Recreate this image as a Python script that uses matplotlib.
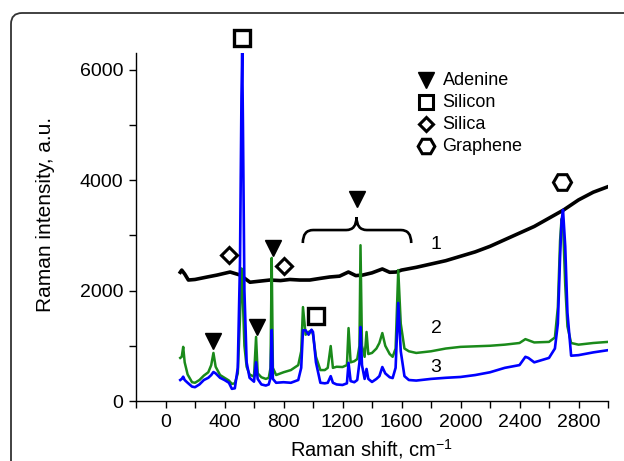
import matplotlib
matplotlib.use("Agg")
import matplotlib.pyplot as plt
from matplotlib.patches import FancyBboxPatch
from matplotlib.path import Path
from matplotlib.patches import PathPatch
from matplotlib.transforms import IdentityTransform
from matplotlib.ticker import MultipleLocator

plt.rcParams['font.family'] = ['Liberation Sans', 'DejaVu Sans']
plt.rcParams['mathtext.fontset'] = 'custom'
plt.rcParams['mathtext.rm'] = 'Liberation Sans'
plt.rcParams['mathtext.it'] = 'Liberation Sans:italic'

# ---------------- data ----------------
x_black = [100, 110, 130, 155, 200, 283, 350, 438, 506, 573, 640, 708, 780, 843,
           910, 978, 1050, 1113, 1180, 1240, 1290, 1337, 1400, 1470, 1520, 1564,
           1600, 1700, 1800, 1900, 2000, 2100, 2200, 2300, 2400, 2500, 2600,
           2700, 2800, 2900, 3000]
y_black = [2330, 2370, 2300, 2190, 2200, 2245, 2280, 2335, 2280, 2150, 2170, 2190,
           2180, 2200, 2190, 2190, 2220, 2245, 2260, 2335, 2270, 2280, 2320, 2390,
           2330, 2335, 2370, 2420, 2480, 2540, 2620, 2700, 2800, 2920, 3040, 3160,
           3310, 3460, 3640, 3780, 3880]

x_gb = [100, 110, 120, 130, 150, 180, 200, 230, 260, 290, 310, 325, 340, 370, 400,
        430, 450, 470, 490, 505, 515, 520, 525, 535, 550, 570, 600, 614, 625, 650,
        680, 700, 712, 720, 728, 750, 800, 850, 900, 920, 932, 950, 970, 990, 1000,
        1020, 1050, 1080, 1100, 1120, 1135, 1160, 1200, 1230, 1241, 1255, 1280,
        1300, 1315, 1322, 1332, 1350, 1363, 1375, 1400, 1430, 1450, 1470, 1490,
        1520, 1540, 1560, 1578, 1595, 1620, 1650, 1700, 1800, 1900, 2000, 2100,
        2200, 2300, 2400, 2440, 2460, 2500, 2600, 2640, 2660, 2675, 2685, 2695,
        2710, 2725, 2750, 2800, 2900, 3000]
y_green = [780, 800, 980, 700, 480, 340, 330, 380, 460, 520, 650, 870, 620, 470, 420,
           370, 310, 320, 500, 1500, 2400, 2300, 1800, 1000, 620, 480, 440, 1160, 500,
           430, 400, 420, 600, 2590, 600, 470, 520, 560, 650, 900, 1700, 1200, 1250,
           1280, 1200, 800, 560, 560, 600, 995, 600, 620, 615, 650, 1320, 700, 720,
           760, 1000, 2820, 1000, 800, 1250, 850, 870, 950, 1050, 1230, 1000, 850,
           800, 950, 2370, 1400, 950, 900, 870, 900, 950, 980, 990, 1000, 1020, 1050,
           1120, 1100, 1060, 1070, 1150, 1700, 2900, 3300, 3200, 2100, 1350, 1050,
           1020, 1050, 1070]
y_blue = [380, 400, 440, 380, 330, 260, 250, 300, 380, 420, 470, 525, 500, 420, 380,
          330, 220, 230, 600, 2500, 5500, 6300, 5000, 2000, 700, 420, 350, 700, 400,
          300, 280, 300, 420, 1285, 400, 330, 340, 330, 380, 600, 1280, 1280, 1200,
          1290, 1250, 700, 330, 320, 330, 450, 330, 300, 290, 320, 690, 360, 340,
          380, 700, 1340, 650, 400, 580, 400, 345, 400, 450, 615, 500, 430, 415, 600,
          1775, 900, 450, 380, 370, 400, 420, 435, 470, 520, 600, 650, 800, 780, 700,
          780, 950, 1400, 2600, 3250, 3460, 2800, 1600, 820, 830, 880, 920]

x_ticks = [0, 400, 800, 1200, 1600, 2000, 2400, 2800]
y_ticks = [0, 2000, 4000, 6000]
curve_labels = ["1", "2", "3"]
legend_names = ["Adenine", "Silicon", "Silica", "Graphene"]

# ---------------- figure ----------------
fig = plt.figure(figsize=(6.24, 4.61), dpi=100)
ax = fig.add_axes([136/624, 60/461, 472/624, 348/461])

ax.plot(x_black, y_black, color='black', lw=2.6, solid_joinstyle='round')
ax.plot(x_gb, y_green, color='#1a8a1a', lw=1.8)
ax.plot(x_gb, y_blue, color='#0000ff', lw=1.9)

ax.set_xlim(-200, 3000)
ax.set_ylim(0, 6300)
ax.set_xticks(x_ticks)
ax.set_yticks(y_ticks)
ax.xaxis.set_minor_locator(MultipleLocator(200))
ax.yaxis.set_minor_locator(MultipleLocator(1000))
ax.tick_params(which='both', direction='out', length=5, width=1, labelsize=14, pad=4)
for s in ['top', 'right']:
    ax.spines[s].set_visible(False)
for s in ['left', 'bottom']:
    ax.spines[s].set_linewidth(1.0)

ax.set_xlabel(r"Raman shift, cm$^{-1}$", fontsize=14.5, labelpad=5)
ax.set_ylabel("Raman intensity, a.u.", fontsize=15)
ax.yaxis.set_label_coords(-0.172, 0.537)

# annotation markers
mk = dict(ls='none', clip_on=False, color='black')
ax.plot([519], [6570], marker='s', ms=11, mfc='white', mec='black', mew=2.4, **mk)
ax.plot([1018], [1540], marker='s', ms=11, mfc='white', mec='black', mew=2.4, **mk)
ax.plot([432, 803], [2640, 2440], marker='D', ms=8, mfc='white', mec='black', mew=2.2, **mk)
ax.plot([324, 620, 728, 1295], [1085, 1340, 2770, 3655], marker='v', ms=11, mfc='black', mec='black', **mk)
ax.plot([2690], [3960], marker='H', ms=13, mfc='white', mec='black', mew=2.2, **mk)

# brace
bx0, bx1, bxc = 931, 1666, 1295
byb, bym, byt = 2860, 3095, 3330
dx = 70
verts = [(bx0, byb), (bx0, bym), (bx0 + dx, bym), (bxc - dx, bym),
         (bxc, bym), (bxc, byt), (bxc, bym), (bxc + dx, bym),
         (bx1 - dx, bym), (bx1, bym), (bx1, byb)]
codes = [Path.MOVETO, Path.CURVE3, Path.CURVE3, Path.LINETO,
         Path.CURVE3, Path.CURVE3, Path.CURVE3, Path.CURVE3,
         Path.LINETO, Path.CURVE3, Path.CURVE3]
ax.add_patch(PathPatch(Path(verts, codes), fc='none', ec='black', lw=1.9))

# curve labels
for lab, yy in zip(curve_labels, [2825, 1305, 615]):
    ax.text(1834, yy, lab, fontsize=14, ha='center', va='center')

# legend (manual)
leg_markers = [dict(marker='v', ms=11, mfc='black', mew=1),
               dict(marker='s', ms=10, mfc='white', mew=2.2),
               dict(marker='D', ms=7.5, mfc='white', mew=2.2),
               dict(marker='H', ms=12, mfc='white', mew=2.2)]
leg_y = [5810, 5410, 5010, 4615]
for name, yy, m in zip(legend_names, leg_y, leg_markers):
    ax.plot([1767], [yy], ls='none', mec='black', color='black', clip_on=False, **m)
    ax.text(1878, yy, name, fontsize=13, ha='left', va='center')

# rounded frame
frame = FancyBboxPatch((11, -60), 700, 461 - 13 + 60,
                       boxstyle="round,pad=0,rounding_size=11",
                       transform=IdentityTransform(), fc='none', ec='#333333', lw=1.3)
fig.add_artist(frame)

fig.savefig("out.png", dpi=100)
